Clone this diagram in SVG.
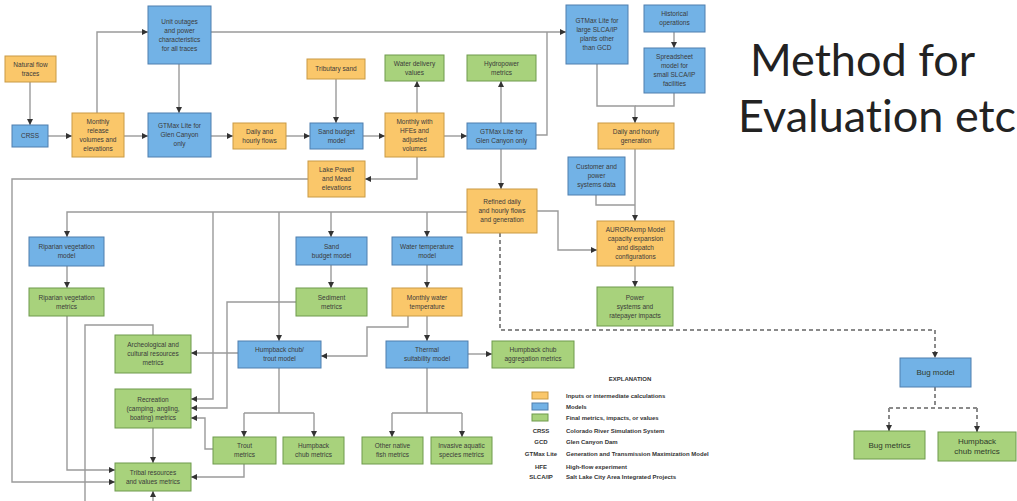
<svg xmlns="http://www.w3.org/2000/svg" width="1017" height="501" viewBox="0 0 1017 501">
<style>
.o{fill:#FAC76A;stroke:#C99A45;stroke-width:1}
.b{fill:#72B2E6;stroke:#4F7EAE;stroke-width:1}
.g{fill:#A8D27C;stroke:#6E9A4C;stroke-width:1}
.t{font-family:"Liberation Sans",Arial,sans-serif;font-size:6.5px;fill:#3a3a3a;text-anchor:middle}
.tb{font-family:"Liberation Sans",Arial,sans-serif;font-size:8px;fill:#2f3a2a;text-anchor:middle}
.c{fill:none;stroke:#9a9a9a;stroke-width:1.4}
.d{fill:none;stroke:#8a8a8a;stroke-width:2;stroke-dasharray:4 3}
.l{font-family:"Liberation Sans",Arial,sans-serif;font-size:6px;font-weight:bold;fill:#333}
.h{font-family:Lato,"Open Sans",sans-serif;font-size:45px;fill:#222;font-variant-ligatures:none}
</style>
<defs>
<marker id="a" markerWidth="6" markerHeight="6" refX="6" refY="3" orient="auto" markerUnits="userSpaceOnUse">
<path d="M0,0 L6,3 L0,6 z" fill="#333"/>
</marker>
</defs>
<rect width="1017" height="501" fill="#fff"/>

<g id="connectors">
<path class="c" d="M30,82 V125" marker-end="url(#a)"/>
<path class="c" d="M48,136 H72" marker-end="url(#a)"/>
<path class="c" d="M97,113 V32 H148" marker-end="url(#a)"/>
<path class="c" d="M179,64 V113" marker-end="url(#a)"/>
<path class="c" d="M124,136 H148" marker-end="url(#a)"/>
<path class="c" d="M211,136 H233" marker-end="url(#a)"/>
<path class="c" d="M286,136 H310" marker-end="url(#a)"/>
<path class="c" d="M336,79 V123" marker-end="url(#a)"/>
<path class="c" d="M363,136 H385" marker-end="url(#a)"/>
<path class="c" d="M417,113 V81" marker-end="url(#a)"/>
<path class="c" d="M417,157 V179 H365" marker-end="url(#a)"/>
<path class="c" d="M444,136 H467" marker-end="url(#a)"/>
<path class="c" d="M501,123 V81" marker-end="url(#a)"/>
<path class="c" d="M501,149 V189" marker-end="url(#a)"/>
<path class="c" d="M211,32 H566" marker-end="url(#a)"/>
<path class="c" d="M536,135 H547 V32"/>
<path class="c" d="M674,32 V48" marker-end="url(#a)"/>
<path class="c" d="M597,64 V106 H635 V123" marker-end="url(#a)"/>
<path class="c" d="M674,93 V106 H635"/>
<path class="c" d="M635,149 V221" marker-end="url(#a)"/>
<path class="c" d="M596,195 V205 H635"/>
<path class="c" d="M537,211 H558 V250 H597" marker-end="url(#a)"/>
<path class="c" d="M635,266 V287" marker-end="url(#a)"/>
<path class="d" d="M500,233 V330 H935 V358" marker-end="url(#a)"/>
<path class="d" d="M935,387 V408 M889,408 H977"/>
<path class="d" d="M889,408 V431" marker-end="url(#a)"/>
<path class="d" d="M977,408 V432" marker-end="url(#a)"/>
<path class="c" d="M308,179 H12 V482 H115" marker-end="url(#a)"/>
<path class="c" d="M467,212 H67 V237" marker-end="url(#a)"/>
<path class="c" d="M331,212 V237" marker-end="url(#a)"/>
<path class="c" d="M427,212 V237" marker-end="url(#a)"/>
<path class="c" d="M279,212 V341" marker-end="url(#a)"/>
<path class="c" d="M213,212 V399 H191" marker-end="url(#a)"/>
<path class="c" d="M67,266 V288" marker-end="url(#a)"/>
<path class="c" d="M331,265 V288" marker-end="url(#a)"/>
<path class="c" d="M427,265 V288" marker-end="url(#a)"/>
<path class="c" d="M427,316 V341" marker-end="url(#a)"/>
<path class="c" d="M408,316 V327 H367 V356 H321" marker-end="url(#a)"/>
<path class="c" d="M468,354 H492" marker-end="url(#a)"/>
<path class="c" d="M427,368 V413 M392,413 H462"/>
<path class="c" d="M392,413 V437" marker-end="url(#a)"/>
<path class="c" d="M462,413 V437" marker-end="url(#a)"/>
<path class="c" d="M279,368 V413 M244,413 H314"/>
<path class="c" d="M244,413 V437" marker-end="url(#a)"/>
<path class="c" d="M314,413 V437" marker-end="url(#a)"/>
<path class="c" d="M296,302 H227 V408 H191" marker-end="url(#a)"/>
<path class="c" d="M238,353 H191" marker-end="url(#a)"/>
<path class="c" d="M67,316 V470 H115" marker-end="url(#a)"/>
<path class="c" d="M153,335 V325 H85 V506 H153 V491" marker-end="url(#a)"/>
<path class="c" d="M153,428 V463" marker-end="url(#a)"/>
<path class="c" d="M244,464 V477 H191" marker-end="url(#a)"/>
<path class="c" d="M213,449 H205 V418 H191" marker-end="url(#a)"/>
</g>

<g id="n1"><rect class="o" x="5" y="56" width="51" height="26"/><text class="t" x="30.5" y="66.8">Natural flow<tspan x="30.5" dy="9">traces</tspan></text></g>
<g id="n2"><rect class="b" x="12" y="125" width="36" height="22"/><text class="t" x="30" y="138.3">CRSS</text></g>
<g id="n3"><rect class="o" x="72" y="113" width="52" height="44"/><text class="t" x="98" y="123.8">Monthly<tspan x="98" dy="9">release</tspan><tspan x="98" dy="9">volumes and</tspan><tspan x="98" dy="9">elevations</tspan></text></g>
<g id="n4"><rect class="b" x="148" y="6" width="63" height="58"/><text class="t" x="179.5" y="23.8">Unit outages<tspan x="179.5" dy="9">and power</tspan><tspan x="179.5" dy="9">characteristics</tspan><tspan x="179.5" dy="9">for all traces</tspan></text></g>
<g id="n5"><rect class="b" x="148" y="113" width="63" height="44"/><text class="t" x="179.5" y="128.3">GTMax Lite for<tspan x="179.5" dy="9">Glen Canyon</tspan><tspan x="179.5" dy="9">only</tspan></text></g>
<g id="n6"><rect class="o" x="233" y="123" width="53" height="26"/><text class="t" x="259.5" y="133.8">Daily and<tspan x="259.5" dy="9">hourly flows</tspan></text></g>
<g id="n7"><rect class="o" x="307" y="59" width="58" height="20"/><text class="t" x="336" y="71.3">Tributary sand</text></g>
<g id="n8"><rect class="b" x="310" y="123" width="53" height="26"/><text class="t" x="336.5" y="133.8">Sand budget<tspan x="336.5" dy="9">model</tspan></text></g>
<g id="n9"><rect class="o" x="385" y="113" width="59" height="44"/><text class="t" x="414.5" y="123.8">Monthly with<tspan x="414.5" dy="9">HFEs and</tspan><tspan x="414.5" dy="9">adjusted</tspan><tspan x="414.5" dy="9">volumes</tspan></text></g>
<g id="n10"><rect class="g" x="385" y="55" width="59" height="26"/><text class="t" x="414.5" y="65.8">Water delivery<tspan x="414.5" dy="9">values</tspan></text></g>
<g id="n11"><rect class="g" x="467" y="55" width="69" height="26"/><text class="t" x="501.5" y="65.8">Hydropower<tspan x="501.5" dy="9">metrics</tspan></text></g>
<g id="n12"><rect class="b" x="467" y="123" width="69" height="26"/><text class="t" x="501.5" y="133.8">GTMax Lite for<tspan x="501.5" dy="9">Glen Canyon only</tspan></text></g>
<g id="n13"><rect class="o" x="308" y="161" width="57" height="36"/><text class="t" x="336.5" y="172.3">Lake Powell<tspan x="336.5" dy="9">and Mead</tspan><tspan x="336.5" dy="9">elevations</tspan></text></g>
<g id="n14"><rect class="o" x="467" y="189" width="70" height="44"/><text class="t" x="502" y="204.3">Refined daily<tspan x="502" dy="9">and hourly flows</tspan><tspan x="502" dy="9">and generation</tspan></text></g>
<g id="n15"><rect class="b" x="566" y="5" width="62" height="59"/><text class="t" x="597" y="23.3">GTMax Lite for<tspan x="597" dy="9">large SLCA/IP</tspan><tspan x="597" dy="9">plants other</tspan><tspan x="597" dy="9">than GCD</tspan></text></g>
<g id="n16"><rect class="b" x="644" y="5" width="61" height="27"/><text class="t" x="674.5" y="16.3">Historical<tspan x="674.5" dy="9">operations</tspan></text></g>
<g id="n17"><rect class="b" x="644" y="48" width="61" height="45"/><text class="t" x="674.5" y="59.3">Spreadsheet<tspan x="674.5" dy="9">model for</tspan><tspan x="674.5" dy="9">small SLCA/IP</tspan><tspan x="674.5" dy="9">facilities</tspan></text></g>
<g id="n18"><rect class="o" x="598" y="123" width="76" height="26"/><text class="t" x="636" y="133.8">Daily and hourly<tspan x="636" dy="9">generation</tspan></text></g>
<g id="n19"><rect class="b" x="568" y="157" width="57" height="38"/><text class="t" x="596.5" y="169.3">Customer and<tspan x="596.5" dy="9">power</tspan><tspan x="596.5" dy="9">systems data</tspan></text></g>
<g id="n20"><rect class="o" x="597" y="221" width="77" height="45"/><text class="t" x="635.5" y="232.3">AURORAxmp Model<tspan x="635.5" dy="9">capacity expansion</tspan><tspan x="635.5" dy="9">and dispatch</tspan><tspan x="635.5" dy="9">configurations</tspan></text></g>
<g id="n21"><rect class="g" x="597" y="287" width="76" height="39"/><text class="t" x="635" y="299.8">Power<tspan x="635" dy="9">systems and</tspan><tspan x="635" dy="9">ratepayer impacts</tspan></text></g>
<g id="n22"><rect class="g" x="492" y="341" width="82" height="27"/><text class="t" x="533" y="352.3">Humpback chub<tspan x="533" dy="9">aggregation metrics</tspan></text></g>
<g id="n23"><rect class="b" x="29" y="237" width="75" height="29"/><text class="t" x="66.5" y="249.3">Riparian vegetation<tspan x="66.5" dy="9">model</tspan></text></g>
<g id="n24"><rect class="g" x="29" y="288" width="75" height="28"/><text class="t" x="66.5" y="299.8">Riparian vegetation<tspan x="66.5" dy="9">metrics</tspan></text></g>
<g id="n25"><rect class="b" x="296" y="237" width="71" height="28"/><text class="t" x="331.5" y="248.8">Sand<tspan x="331.5" dy="9">budget model</tspan></text></g>
<g id="n26"><rect class="g" x="296" y="288" width="71" height="28"/><text class="t" x="331.5" y="299.8">Sediment<tspan x="331.5" dy="9">metrics</tspan></text></g>
<g id="n27"><rect class="b" x="392" y="237" width="70" height="28"/><text class="t" x="427" y="248.8">Water temperature<tspan x="427" dy="9">model</tspan></text></g>
<g id="n28"><rect class="o" x="392" y="288" width="70" height="28"/><text class="t" x="427" y="299.8">Monthly water<tspan x="427" dy="9">temperature</tspan></text></g>
<g id="n29"><rect class="g" x="115" y="335" width="76" height="38"/><text class="t" x="153" y="347.3">Archeological and<tspan x="153" dy="9">cultural resources</tspan><tspan x="153" dy="9">metrics</tspan></text></g>
<g id="n30"><rect class="g" x="115" y="389" width="76" height="39"/><text class="t" x="153" y="401.8">Recreation<tspan x="153" dy="9">(camping, angling,</tspan><tspan x="153" dy="9">boating) metrics</tspan></text></g>
<g id="n31"><rect class="g" x="115" y="463" width="76" height="28"/><text class="t" x="153" y="474.8">Tribal resources<tspan x="153" dy="9">and values metrics</tspan></text></g>
<g id="n32"><rect class="b" x="238" y="341" width="83" height="27"/><text class="t" x="279.5" y="352.3">Humpback chub/<tspan x="279.5" dy="9">trout model</tspan></text></g>
<g id="n33"><rect class="b" x="386" y="341" width="82" height="27"/><text class="t" x="427" y="352.3">Thermal<tspan x="427" dy="9">suitability model</tspan></text></g>
<g id="n34"><rect class="g" x="213" y="437" width="63" height="27"/><text class="t" x="244.5" y="448.3">Trout<tspan x="244.5" dy="9">metrics</tspan></text></g>
<g id="n35"><rect class="g" x="283" y="437" width="61" height="27"/><text class="t" x="313.5" y="448.3">Humpback<tspan x="313.5" dy="9">chub metrics</tspan></text></g>
<g id="n36"><rect class="g" x="362" y="437" width="61" height="27"/><text class="t" x="392.5" y="448.3">Other native<tspan x="392.5" dy="9">fish metrics</tspan></text></g>
<g id="n37"><rect class="g" x="431" y="437" width="61" height="27"/><text class="t" x="461.5" y="448.3">Invasive aquatic<tspan x="461.5" dy="9">species metrics</tspan></text></g>
<g id="n38"><rect class="b" x="900" y="358" width="71" height="29"/><text class="tb" x="935.5" y="375.3">Bug model</text></g>
<g id="n39"><rect class="g" x="854" y="431" width="71" height="28"/><text class="tb" x="889.5" y="447.8">Bug metrics</text></g>
<g id="n40"><rect class="g" x="938" y="432" width="78" height="29"/><text class="tb" x="977" y="444.3">Humpback<tspan x="977" dy="10">chub metrics</tspan></text></g>

<g id="legend">
<text class="l" x="630" y="381" text-anchor="middle">EXPLANATION</text>
<rect class="o" x="532" y="392" width="16" height="7"/>
<rect class="b" x="532" y="403" width="16" height="7"/>
<rect class="g" x="532" y="414" width="16" height="7"/>
<text class="l" x="566" y="398">Inputs or intermediate calculations</text>
<text class="l" x="566" y="409">Models</text>
<text class="l" x="566" y="420">Final metrics, impacts, or values</text>
<text class="l" x="541" y="433" text-anchor="middle">CRSS</text>
<text class="l" x="541" y="444" text-anchor="middle">GCD</text>
<text class="l" x="541" y="456" text-anchor="middle">GTMax Lite</text>
<text class="l" x="541" y="469" text-anchor="middle">HFE</text>
<text class="l" x="541" y="479" text-anchor="middle">SLCA/IP</text>
<text class="l" x="566" y="433">Colorado River Simulation System</text>
<text class="l" x="566" y="444">Glen Canyon Dam</text>
<text class="l" x="566" y="456">Generation and Transmission Maximization Model</text>
<text class="l" x="566" y="469">High-flow experiment</text>
<text class="l" x="566" y="479">Salt Lake City Area Integrated Projects</text>
</g>

<g id="title">
<text class="h" x="750" y="76">Method for</text>
<text class="h" x="738" y="132">Evaluation etc</text>
</g>
</svg>
